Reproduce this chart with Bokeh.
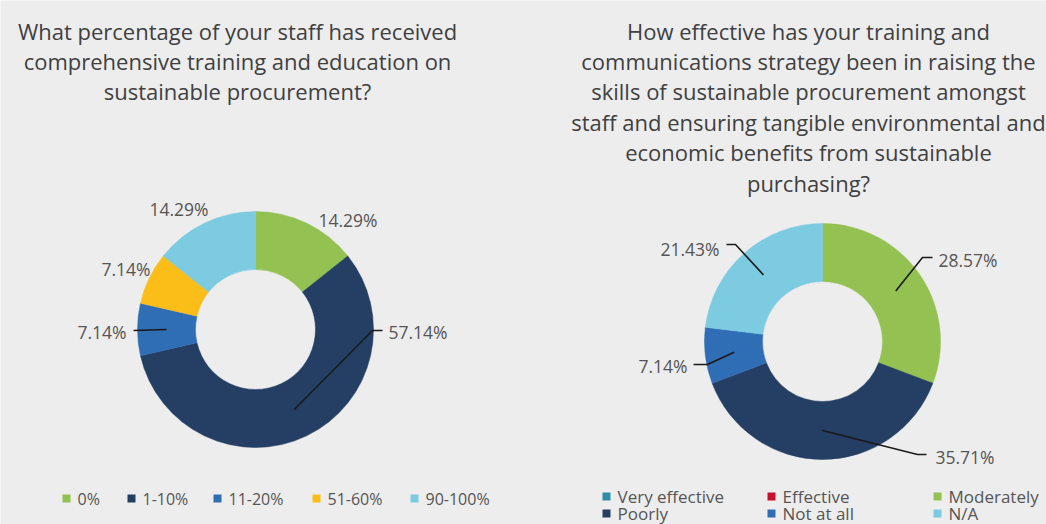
import math
from bokeh.plotting import figure
from bokeh.models import Range1d
from bokeh.core.properties import value
from bokeh.embed import file_html
from bokeh.resources import INLINE

# ---------------- data ----------------
q1_title = ["What percentage of your staff has received",
            "comprehensive training and education on",
            "sustainable procurement?"]
q1_categories = ["0%", "1-10%", "11-20%", "51-60%", "90-100%"]
q1_values = [14.29, 57.14, 7.14, 7.14, 14.29]

q2_title = ["How effective has your training and",
            "communications strategy been in raising the",
            "skills of sustainable procurement amongst",
            "staff and ensuring tangible environmental and",
            "economic benefits from sustainable",
            "purchasing?"]
q2_categories = ["Very effective", "Effective", "Moderately", "Poorly", "Not at all", "N/A"]
q2_values = [0, 0, 28.57, 35.71, 7.14, 21.43]

# ---------------- styles ----------------
COLORS = {
    "0%": "#93c152", "1-10%": "#243f63", "11-20%": "#2f6db5",
    "51-60%": "#fbbd18", "90-100%": "#7dcbe1",
    "Very effective": "#2e8da7", "Effective": "#c8102e", "Moderately": "#93c152",
    "Poorly": "#243f63", "Not at all": "#2f6db5", "N/A": "#7dcbe1",
}
BG = "#ededed"
FONT = value("Open Sans")
TITLE_COLOR = "#404040"
LABEL_COLOR = "#555555"

W, H = 1046, 524
p = figure(width=W, height=H, output_backend="svg", toolbar_location=None,
           x_range=Range1d(0, W), y_range=Range1d(0, H),
           x_axis_type=None, y_axis_type=None, min_border=0,
           background_fill_color=BG, border_fill_color=BG, outline_line_color=None)
p.grid.visible = False


def Y(ry):
    return H - ry


def donut(cx, cy, cats, vals, r_in, r_out):
    total = float(sum(vals))
    acc = 0.0
    mids = {}
    for c, v in zip(cats, vals):
        t0 = acc / total * 2 * math.pi
        acc += v
        t1 = acc / total * 2 * math.pi
        if v > 0:
            p.annular_wedge(x=cx, y=Y(cy), inner_radius=r_in, outer_radius=r_out,
                            start_angle=math.pi / 2 - t0, end_angle=math.pi / 2 - t1,
                            direction="clock", fill_color=COLORS[c],
                            line_color=COLORS[c], line_width=0.5)
        tm = (t0 + t1) / 2
        rm = (r_in + r_out) / 2
        mids[c] = (cx + rm * math.sin(tm), cy - rm * math.cos(tm))
    return mids


def title(lines, cx, y0, step=30.4):
    for i, t in enumerate(lines):
        p.text(x=[cx], y=[Y(y0 + i * step)], text=[t], text_font=FONT,
               text_font_size="22px", text_color=TITLE_COLOR,
               text_align="center", text_baseline="middle")


def labels(cats, vals, mids, layout):
    for c, v in zip(cats, vals):
        if c not in layout:
            continue
        lx, ly, align, leader = layout[c]
        p.text(x=[lx], y=[Y(ly)], text=[f"{v:.2f}%"], text_font=FONT,
               text_font_size="17.5px", text_color=LABEL_COLOR,
               text_align=align, text_baseline="middle")
        if leader:
            pts = list(leader) + [mids[c]]
            p.line(x=[q[0] for q in pts], y=[Y(q[1]) for q in pts],
                   line_color="#1a1a1a", line_width=1.6)


def legend(cats, xs, ys, size):
    for c, x, y in zip(cats, xs, ys):
        p.rect(x=[x + 4], y=[Y(y)], width=8, height=8, fill_color=COLORS[c], line_color=None)
        p.text(x=[x + 15], y=[Y(y)], text=[c], text_font=FONT, text_font_size=size,
               text_color=LABEL_COLOR, text_align="left", text_baseline="middle")


# ---------------- left chart ----------------
title(q1_title, 237, 30)
m1 = donut(255, 329, q1_categories, q1_values, 60, 118)
labels(q1_categories, q1_values, m1, {
    "0%": (318, 219, "left", None),
    "1-10%": (388, 331, "left", [(382, 330), (372, 330)]),
    "11-20%": (126, 331, "right", [(133, 330)]),
    "51-60%": (150, 268, "right", None),
    "90-100%": (208, 208, "right", None),
})
legend(q1_categories, [62, 127, 213, 312, 410], [498] * 5, "16px")

# ---------------- right chart ----------------
title(q2_title, 808, 30)
m2 = donut(822, 341, q2_categories, q2_values, 60, 118)
labels(q2_categories, q2_values, m2, {
    "Moderately": (938, 259, "left", [(932, 257), (922, 257)]),
    "Poorly": (935, 456, "left", [(926, 454), (917, 454)]),
    "Not at all": (687, 365, "right", [(693, 364), (707, 364)]),
    "N/A": (719, 248, "right", [(726, 244), (735, 244)]),
})
legend(q2_categories, [602, 767, 933, 602, 767, 933], [496, 496, 496, 513, 513, 513], "17px")

open("out.html", "w").write(file_html(p, INLINE))
